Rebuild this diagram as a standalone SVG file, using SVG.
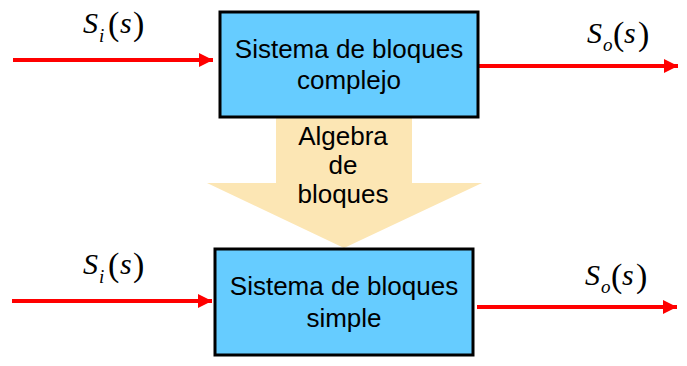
<svg xmlns="http://www.w3.org/2000/svg" width="687" height="366" viewBox="0 0 687 366">
<style>
.box{fill:#66CCFF;stroke:#000;stroke-width:3}
.lbl{font-family:"Liberation Sans",Arial,sans-serif;font-size:26px;fill:#000;text-anchor:middle}
.wire{stroke:#FF0000;stroke-width:4;fill:none}
.m{font-family:"Liberation Serif","Times New Roman",serif;font-size:30px;fill:#000}
.mi{font-style:italic}
.p{font-family:"Liberation Serif","Times New Roman",serif;font-size:34px;fill:#000}
.sub{font-family:"Liberation Serif","Times New Roman",serif;font-size:19px;font-style:italic;fill:#000}
</style>
<defs>
<marker id="ah" markerWidth="14" markerHeight="14" refX="14" refY="7" orient="auto" markerUnits="userSpaceOnUse">
<path d="M0,0 L14,7 L0,14 Z" fill="#FF0000"/>
</marker>
</defs>
<g id="bigarrow">
<path d="M276,117 L412,117 L412,183 L482,183 L344,248 L207,183 L276,183 Z" fill="#FCE6B4"/>
<text class="lbl" x="343" y="145">Algebra</text>
<text class="lbl" x="343" y="174">de</text>
<text class="lbl" x="343" y="203">bloques</text>
</g>
<g id="connectors">
<line class="wire" x1="13" y1="60" x2="213" y2="60" marker-end="url(#ah)"/>
<line class="wire" x1="479" y1="66" x2="678" y2="66" marker-end="url(#ah)"/>
<line class="wire" x1="12" y1="301" x2="212" y2="301" marker-end="url(#ah)"/>
<line class="wire" x1="477" y1="307" x2="677" y2="307" marker-end="url(#ah)"/>
</g>
<g id="complex">
<rect class="box" x="220" y="12" width="258" height="105"/>
<text class="lbl" x="349" y="58">Sistema de bloques</text>
<text class="lbl" x="349" y="89">complejo</text>
</g>
<g id="simple">
<rect class="box" x="215" y="249" width="258" height="106"/>
<text class="lbl" x="344" y="295">Sistema de bloques</text>
<text class="lbl" x="344" y="327">simple</text>
</g>
<g id="label-si-top">
<text class="m mi" x="83" y="33">S</text><text class="sub" x="99" y="42">i</text>
<text class="p" x="108" y="35">(</text><text class="m mi" x="120" y="33">s</text><text class="p" x="133" y="35">)</text>
</g>
<g id="label-so-top">
<text class="m mi" x="587" y="43">S</text><text class="sub" x="603" y="51">o</text>
<text class="p" x="613" y="45">(</text><text class="m mi" x="624" y="43">s</text><text class="p" x="638" y="45">)</text>
</g>
<g id="label-si-bottom">
<text class="m mi" x="83" y="274">S</text><text class="sub" x="99" y="283">i</text>
<text class="p" x="108" y="276">(</text><text class="m mi" x="120" y="274">s</text><text class="p" x="133" y="276">)</text>
</g>
<g id="label-so-bottom">
<text class="m mi" x="585" y="285">S</text><text class="sub" x="601" y="293">o</text>
<text class="p" x="611" y="287">(</text><text class="m mi" x="622" y="285">s</text><text class="p" x="636" y="287">)</text>
</g>
</svg>
